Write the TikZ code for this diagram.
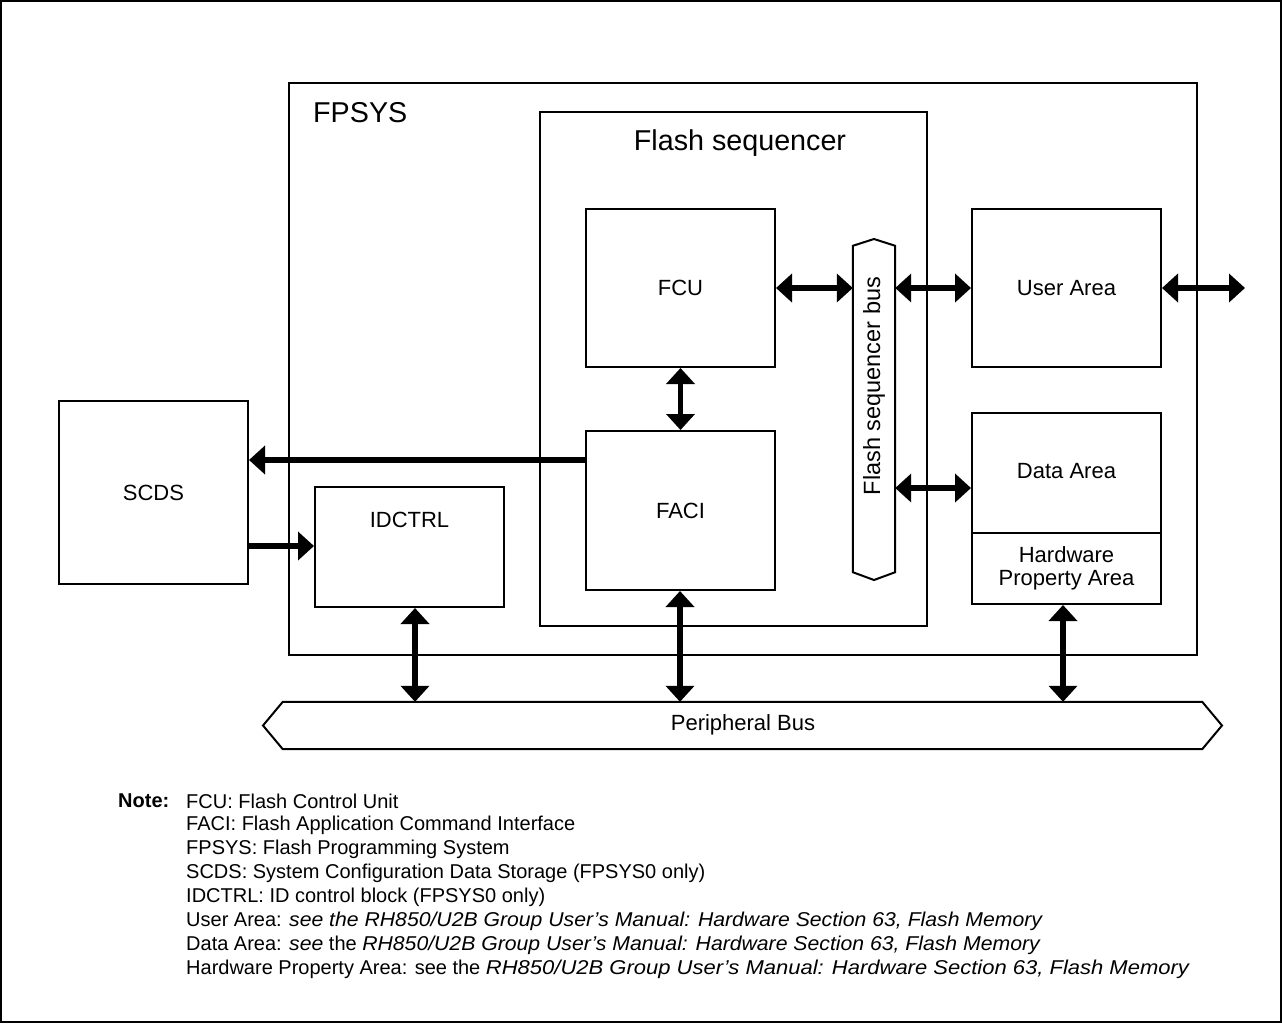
\documentclass[tikz,border=0pt]{standalone}
\usepackage{fontspec}
\setmainfont{Liberation Sans}
\usetikzlibrary{arrows.meta}
\newcommand{\wit}[1]{\scalebox{1.06}[1]{\textit{#1}}}
\newcommand{\wwit}[1]{\scalebox{1.1}[1]{\textit{#1}}}
\begin{document}
\begin{tikzpicture}[x=1pt,y=-1pt,
  blk/.style={draw,line width=2pt,inner sep=0pt,minimum width=189pt,font=\fontsize{22}{26}\selectfont,align=center},
  big/.style={font=\fontsize{28.7}{33}\selectfont},
  lbl/.style={font=\fontsize{22}{26}\selectfont,inner sep=0pt},
  arr/.style={line width=5.5pt,-{Triangle[length=16pt,width=28pt]}},
  darr/.style={line width=5.5pt,{Triangle[length=16pt,width=28pt]}-{Triangle[length=16pt,width=28pt]}},
  note/.style={font=\fontsize{20}{24}\selectfont,anchor=west,inner sep=0pt}]
\useasboundingbox (0,0) rectangle (1282,1023);
\draw[line width=1.5pt] (1,1) rectangle (1281,1022);
% FPSYS
\node[draw,line width=2pt,inner sep=0pt,minimum width=908pt,minimum height=572pt] (fpsys) at (743,369) {};
\node[big,anchor=west,inner sep=0pt] (fpsystxt) at (313,113) {FPSYS};
% Flash sequencer
\node[draw,line width=2pt,inner sep=0pt,minimum width=387pt,minimum height=514pt] (fseq) at (733.5,369) {};
\node[big,inner sep=0pt] (fseqtxt) at (740,143) {Flash sequencer};
% blocks
\node[blk,minimum height=158pt] (fcu) at (680.5,288) {FCU};
\node[blk,minimum height=159pt] (faci) at (680.5,510.5) {FACI};
\node[blk,minimum height=158pt] (user) at (1066.5,288) {User Area};
\node[blk,minimum height=191pt] (data) at (1066.5,508.5) {};
\draw[line width=2pt] (972,533) -- (1161,533);
\node[lbl] (datatxt) at (1066.5,471) {Data Area};
\node[lbl,align=center] (hwtxt) at (1066.5,568) {Hardware\\[-3pt]Property Area};
\node[blk,minimum height=183pt] (scds) at (153.5,492.5) {SCDS};
\node[blk,minimum height=120pt] (idctrl) at (409.5,547) {};
\node[lbl] (idtxt) at (409.5,520) {IDCTRL};
% Flash sequencer bus
\node[inner sep=0pt,minimum width=42pt,minimum height=326pt] (bus) at (874,409) {};
\draw[line width=2pt] (bus.north west) -- (874,239) -- (bus.north east) -- (bus.south east) -- (874,580) -- (bus.south west) -- cycle;
\node[font=\fontsize{23.5}{28}\selectfont,inner sep=0pt,rotate=90] (bustxt) at (874,386) {Flash sequencer bus};
% Peripheral bus
\node[inner sep=0pt,minimum width=919pt,minimum height=47pt] (pbus) at (742.5,725.5) {};
\draw[line width=2pt] (pbus.north west) -- (pbus.north east) -- (1222,725.5) -- (pbus.south east) -- (pbus.south west) -- (263,725.5) -- cycle;
\node[lbl] (pbustxt) at (743,725) {Peripheral Bus};
% connectors
\coordinate (ext) at (1245,288);
\draw[darr] (fcu.east) -- (fcu.east -| bus.west);
\draw[darr] (user.west -| bus.east) -- (user.west);
\draw[darr] (user.east) -- (ext);
\draw[darr] (fcu.south) -- (faci.north);
\draw[darr] (bus.east |- 0,488) -- (data.west |- 0,488);
\draw[arr] (faci.west |- 0,460) -- (scds.east |- 0,460);
\draw[arr] (scds.east |- 0,546) -- (idctrl.west |- 0,546);
\draw[darr] (idctrl.south -| 415,0) -- (pbus.north -| 415,0);
\draw[darr] (faci.south -| 680,0) -- (pbus.north -| 680,0);
\draw[darr] (data.south -| 1063,0) -- (pbus.north -| 1063,0);
% note
\node[note,font=\fontsize{20}{24}\selectfont\bfseries] (notehd) at (118,801) {Note:};
\node[note] (n1) at (186,801) {FCU: Flash Control Unit};
\node[note] (n2) at (186,825) {FACI: Flash Application Command Interface};
\node[note] (n3) at (186,849) {FPSYS: Flash Programming System};
\node[note] (n4) at (186,873) {SCDS: System Configuration Data Storage (FPSYS0 only)};
\node[note] (n5) at (186,897) {IDCTRL: ID control block (FPSYS0 only)};
\node[note] (n6) at (186,921) {User Area: \wit{see the RH850/U2B Group User's Manual: Hardware Section 63, Flash Memory}};
\node[note] (n7) at (186,945) {Data Area: \wit{see} the \wit{RH850/U2B Group User's Manual: Hardware Section 63, Flash Memory}};
\node[note] (n8) at (186,969) {Hardware Property Area: see the \wwit{RH850/U2B Group User's Manual: Hardware Section 63, Flash Memory}};
\end{tikzpicture}
\end{document}
